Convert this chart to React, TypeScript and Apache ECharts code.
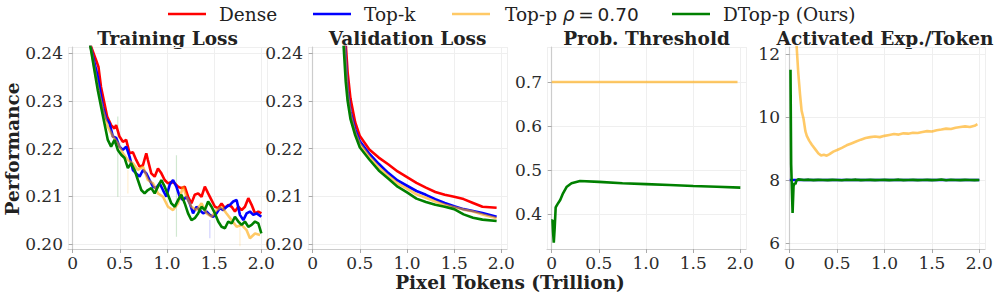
import React, { useEffect, useRef } from 'react';
import * as echarts from 'echarts';

type P = [number, number];

const seriesNames = ['Dense', 'Top-k', 'Top-p ρ = 0.70', 'DTop-p (Ours)'];
const panelTitles = ['Training Loss', 'Validation Loss', 'Prob. Threshold', 'Activated Exp./Token'];
const xLabel = 'Pixel Tokens (Trillion)';
const yLabel = 'Performance';

// Training loss (smoothed)
const trainDense: P[] = [[0.17,0.2450],[0.195,0.2413],[0.248,0.2385],[0.273,0.2371],[0.30,0.2329],[0.336,0.2295],[0.365,0.2267],[0.407,0.2249],[0.443,0.2242],[0.46,0.2249],[0.496,0.2225],[0.532,0.2214],[0.567,0.2218],[0.603,0.2190],[0.638,0.2192],[0.673,0.2176],[0.709,0.2162],[0.745,0.2165],[0.78,0.2190],[0.797,0.2176],[0.833,0.2148],[0.869,0.2141],[0.904,0.2158],[0.94,0.2148],[0.975,0.2134],[1.01,0.2127],[1.046,0.2130],[1.082,0.2127],[1.117,0.2120],[1.152,0.2117],[1.188,0.2120],[1.223,0.2099],[1.259,0.2085],[1.294,0.2103],[1.33,0.2106],[1.366,0.2099],[1.401,0.2120],[1.436,0.2106],[1.472,0.2092],[1.508,0.2078],[1.543,0.2075],[1.578,0.2085],[1.614,0.2075],[1.649,0.2082],[1.685,0.2078],[1.72,0.2068],[1.756,0.2078],[1.791,0.2071],[1.826,0.2078],[1.862,0.2096],[1.897,0.2082],[1.933,0.2064],[1.968,0.2068],[2.0,0.2064]];
const trainTopk: P[] = [[0.165,0.2450],[0.19,0.2413],[0.266,0.2350],[0.319,0.2288],[0.355,0.2263],[0.39,0.2253],[0.426,0.2225],[0.461,0.2222],[0.496,0.2204],[0.532,0.2197],[0.567,0.2204],[0.603,0.2183],[0.638,0.2155],[0.673,0.2148],[0.709,0.2141],[0.745,0.2155],[0.78,0.2148],[0.815,0.2134],[0.851,0.2120],[0.886,0.2117],[0.922,0.2127],[0.957,0.2113],[0.993,0.2099],[1.028,0.2124],[1.064,0.2134],[1.099,0.2120],[1.135,0.2099],[1.17,0.2092],[1.206,0.2099],[1.241,0.2085],[1.276,0.2064],[1.312,0.2078],[1.347,0.2071],[1.383,0.2064],[1.418,0.2068],[1.454,0.2061],[1.489,0.2057],[1.525,0.2064],[1.56,0.2075],[1.596,0.2071],[1.631,0.2078],[1.667,0.2082],[1.702,0.2089],[1.738,0.2092],[1.773,0.2061],[1.809,0.2050],[1.844,0.2064],[1.879,0.2068],[1.915,0.2061],[1.95,0.2064],[2.0,0.2057]];
const trainTopp: P[] = [[0.165,0.2450],[0.19,0.2413],[0.266,0.2329],[0.319,0.2281],[0.372,0.2246],[0.426,0.2225],[0.478,0.2211],[0.532,0.2190],[0.585,0.2176],[0.638,0.2169],[0.691,0.2155],[0.745,0.2162],[0.797,0.2134],[0.851,0.2127],[0.904,0.2106],[0.957,0.2099],[1.01,0.2078],[1.064,0.2071],[1.117,0.2085],[1.17,0.2120],[1.206,0.2099],[1.259,0.2078],[1.312,0.2071],[1.366,0.2085],[1.418,0.2064],[1.472,0.2057],[1.525,0.2071],[1.578,0.2078],[1.631,0.2064],[1.685,0.2050],[1.738,0.2036],[1.791,0.2040],[1.844,0.2029],[1.879,0.2012],[1.933,0.2022],[1.986,0.2019]];
const trainDtopp: P[] = [[0.16,0.2450],[0.188,0.2413],[0.23,0.2364],[0.266,0.2322],[0.30,0.2288],[0.336,0.2253],[0.372,0.2218],[0.407,0.2204],[0.443,0.2218],[0.478,0.2197],[0.514,0.2187],[0.55,0.2180],[0.585,0.2159],[0.62,0.2169],[0.656,0.2155],[0.691,0.2134],[0.727,0.2113],[0.762,0.2106],[0.797,0.2113],[0.833,0.2117],[0.869,0.2106],[0.904,0.2120],[0.94,0.2134],[0.975,0.2120],[1.01,0.2103],[1.046,0.2085],[1.082,0.2078],[1.117,0.2092],[1.152,0.2103],[1.188,0.2085],[1.223,0.2064],[1.259,0.2050],[1.294,0.2054],[1.33,0.2064],[1.366,0.2078],[1.401,0.2071],[1.436,0.2089],[1.472,0.2078],[1.508,0.2064],[1.543,0.2047],[1.578,0.2036],[1.614,0.2033],[1.649,0.2047],[1.685,0.2043],[1.72,0.2057],[1.756,0.2047],[1.791,0.2040],[1.826,0.2047],[1.862,0.2036],[1.897,0.2040],[1.933,0.2047],[1.968,0.2043],[2.0,0.2022]];

// faint raw spikes: [x, yFrom, yTo, colour index]
const rawSpikes: [number, number, number, number][] = [[0.478,0.2267,0.2099,3],[0.585,0.2155,0.2106,2],[1.10,0.2186,0.2015,3],[1.454,0.2050,0.2012,1],[1.773,0.2050,0.1995,2]];

// Validation loss
const valDense: P[] = [[0.345,0.2450],[0.35,0.2420],[0.37,0.2360],[0.40,0.2305],[0.45,0.2255],[0.50,0.2226],[0.60,0.2198],[0.70,0.2181],[0.80,0.2167],[0.90,0.2152],[1.00,0.2140],[1.10,0.2128],[1.20,0.2118],[1.30,0.2109],[1.40,0.2103],[1.50,0.2099],[1.60,0.2094],[1.70,0.2086],[1.80,0.2078],[1.95,0.2076]];
const valTopk: P[] = [[0.33,0.2460],[0.35,0.2390],[0.37,0.2325],[0.40,0.2278],[0.45,0.2240],[0.50,0.2215],[0.60,0.2189],[0.70,0.2168],[0.80,0.2149],[0.90,0.2133],[1.00,0.2122],[1.10,0.2111],[1.20,0.2103],[1.30,0.2094],[1.40,0.2086],[1.50,0.2079],[1.60,0.2073],[1.70,0.2069],[1.80,0.2065],[1.95,0.2057]];
const valTopp: P[] = [[0.33,0.2450],[0.35,0.2380],[0.37,0.2318],[0.40,0.2272],[0.45,0.2234],[0.50,0.2210],[0.60,0.2183],[0.70,0.2161],[0.80,0.2143],[0.90,0.2127],[1.00,0.2116],[1.10,0.2104],[1.20,0.2097],[1.30,0.2089],[1.40,0.2082],[1.50,0.2077],[1.60,0.2072],[1.70,0.2068],[1.80,0.2062],[1.95,0.2054]];
const valDtopp: P[] = [[0.32,0.2440],[0.35,0.2340],[0.37,0.2300],[0.40,0.2262],[0.45,0.2228],[0.50,0.2202],[0.60,0.2177],[0.70,0.2154],[0.80,0.2137],[0.90,0.2120],[1.00,0.2108],[1.10,0.2095],[1.20,0.2088],[1.30,0.2082],[1.40,0.2078],[1.50,0.2073],[1.60,0.2062],[1.70,0.2055],[1.80,0.2051],[1.95,0.2048]];

// Probability threshold
const thrTopp: P[] = [[0.0,0.70],[1.97,0.70]];
const thrDtopp: P[] = [[0.0,0.385],[0.008,0.386],[0.014,0.36],[0.022,0.335],[0.032,0.37],[0.042,0.415],[0.06,0.422],[0.09,0.432],[0.12,0.447],[0.16,0.462],[0.21,0.470],[0.30,0.475],[0.50,0.473],[0.75,0.470],[1.00,0.468],[1.25,0.466],[1.50,0.4635],[1.75,0.462],[2.0,0.460]];

// Activated experts per token
const actTopk: P[] = [[0.0,8.0],[2.0,8.0]];
const actTopp: P[] = [[0.055,13.0],[0.071,12.33],[0.09,11.40],[0.109,10.7],[0.125,10.2],[0.145,9.95],[0.165,9.55],[0.18,9.40],[0.205,9.25],[0.233,9.12],[0.268,8.98],[0.303,8.84],[0.33,8.78],[0.36,8.80],[0.39,8.77],[0.42,8.82],[0.46,8.90],[0.50,8.95],[0.55,9.02],[0.60,9.10],[0.65,9.16],[0.70,9.22],[0.75,9.28],[0.80,9.33],[0.85,9.36],[0.90,9.38],[0.95,9.36],[1.00,9.40],[1.05,9.43],[1.10,9.46],[1.15,9.44],[1.20,9.48],[1.25,9.47],[1.30,9.50],[1.35,9.49],[1.40,9.52],[1.45,9.55],[1.50,9.54],[1.55,9.58],[1.60,9.60],[1.65,9.63],[1.70,9.62],[1.75,9.66],[1.80,9.68],[1.85,9.70],[1.90,9.68],[1.95,9.72],[1.98,9.77]];
const actDtopp: P[] = [[0.008,11.5],[0.015,8.5],[0.03,6.95],[0.04,7.8],[0.05,7.9],[0.06,7.87],[0.07,7.98],[0.09,8.02],[0.15,8.0],[0.2,8.01],[0.25,7.995],[0.3,8.005],[0.35,8.0],[0.4,7.995],[0.45,8.005],[0.5,8.0],[0.55,7.99],[0.6,8.005],[0.65,8.0],[0.7,8.01],[0.75,7.995],[0.8,8.0],[0.85,8.005],[0.9,7.995],[0.95,8.0],[1.0,8.005],[1.05,7.995],[1.1,8.0],[1.15,8.01],[1.2,7.995],[1.25,8.0],[1.3,8.005],[1.35,7.995],[1.4,8.0],[1.45,8.005],[1.5,7.995],[1.55,8.0],[1.6,8.015],[1.65,7.99],[1.7,8.005],[1.75,8.0],[1.8,7.995],[1.85,8.005],[1.9,8.0],[1.95,7.995],[2.0,8.0]];

const colors = ['#ff0000', '#0000ff', '#ffa500', '#008000'];
const opacities = [1, 1, 0.6, 1];

const FONT = 'DejaVu Serif';
const BIG = 18.5;
const legendLeft = [168, 313, 452, 672];
const grids = [
  { left: 68, top: 47, width: 199, height: 202 },
  { left: 308, top: 47, width: 199, height: 202 },
  { left: 547, top: 47, width: 199, height: 202 },
  { left: 785, top: 47, width: 200, height: 202 },
];
const yRanges = [
  { min: 0.19895, max: 0.24126, split: 5, dec: 2 },
  { min: 0.19895, max: 0.24126, split: 5, dec: 2 },
  { min: 0.3205, max: 0.7795, split: 5, dec: 1 },
  { min: 5.81, max: 12.22, split: 3, dec: 0 },
];

export default function App() {
  const ref = useRef<HTMLDivElement>(null);
  useEffect(() => {
    if (!ref.current) return;
    const chart = echarts.init(ref.current, undefined, { renderer: 'svg' });
    const axisLine = { show: true, lineStyle: { color: '#cccccc', width: 1.2 } };
    const axisTick = { show: true, length: 4, lineStyle: { color: '#aaaaaa', width: 1 } };
    const splitLine = { show: true, lineStyle: { color: '#efefef', width: 1 } };
    const labelBase = { fontSize: 17, fontFamily: FONT, color: '#2b2b2b', showMinLabel: false, showMaxLabel: false };

    const xAxes = grids.map((_, i) => ({
      type: 'value', gridIndex: i, min: -0.05, max: 2.06, splitNumber: 5,
      axisLine, axisTick, splitLine,
      axisLabel: { ...labelBase, margin: 5, formatter: (v: number) => (v === 0 ? '0' : v.toFixed(1)) },
    }));
    const yAxes = yRanges.map((r, i) => ({
      type: 'value', gridIndex: i, min: r.min, max: r.max, splitNumber: r.split,
      axisLine, axisTick, splitLine,
      axisLabel: { ...labelBase, margin: 5, formatter: (v: number) => v.toFixed(r.dec) },
    }));

    const line = (name: string, ci: number, data: P[], gi: number, z = 2) => ({
      type: 'line', name, data, xAxisIndex: gi, yAxisIndex: gi,
      showSymbol: false, symbol: 'none', z,
      lineStyle: { color: colors[ci], width: 2.6, opacity: opacities[ci] },
      itemStyle: { color: colors[ci], opacity: opacities[ci] },
      emphasis: { disabled: true },
    });

    const panelSeries: [number, P[], number][] = [
      [0, trainDense, 0], [1, trainTopk, 0], [2, trainTopp, 0], [3, trainDtopp, 0],
      [0, valDense, 1], [1, valTopk, 1], [2, valTopp, 1], [3, valDtopp, 1],
      [2, thrTopp, 2], [3, thrDtopp, 2],
      [1, actTopk, 3], [2, actTopp, 3], [3, actDtopp, 3],
    ];
    const series: any[] = rawSpikes.map((s, k) => ({
      type: 'line', name: 'raw' + k, xAxisIndex: 0, yAxisIndex: 0, showSymbol: false, symbol: 'none', z: 1,
      data: [[s[0], s[1]], [s[0], s[2]]],
      lineStyle: { color: colors[s[3]], width: 1.2, opacity: 0.18 },
      emphasis: { disabled: true },
    }));
    panelSeries.forEach(([ci, d, gi]) => series.push(line(seriesNames[ci], ci, d, gi, 2 + ci)));

    const graphic: any[] = panelTitles.map((t, i) => ({
      type: 'text', x: grids[i].left + grids[i].width / 2, y: 38,
      style: { text: t, fontSize: BIG, fontWeight: 'bold', fontFamily: FONT, fill: '#222222', align: 'center', verticalAlign: 'middle' },
    }));
    graphic.push({
      type: 'text', x: 510, y: 282,
      style: { text: xLabel, fontSize: BIG, fontWeight: 'bold', fontFamily: FONT, fill: '#222222', align: 'center', verticalAlign: 'middle' },
    });
    graphic.push({
      type: 'text', x: 12, y: 149, rotation: Math.PI / 2,
      style: { text: yLabel, fontSize: BIG, fontWeight: 'bold', fontFamily: FONT, fill: '#222222', align: 'center', verticalAlign: 'middle' },
    });

    const legends = seriesNames.map((n, i) => ({
      data: [n], left: legendLeft[i], top: 4, padding: 0, itemWidth: 38, itemHeight: 2.6,
      icon: 'rect', selectedMode: false,
      textStyle: {
        fontSize: BIG, fontFamily: FONT, color: '#222222', padding: [0, 0, 0, i === 2 ? 10 : 8], lineHeight: 20,
        rich: {
          r: { fontFamily: 'DejaVu Sans', fontStyle: 'italic', fontSize: BIG, color: '#222222', lineHeight: 20 },
          s: { fontFamily: 'DejaVu Sans', fontSize: BIG, color: '#222222', lineHeight: 20 },
        },
      },
      formatter: (name: string) => (name === seriesNames[2] ? 'Top-p {r|ρ}{s|\u2009=\u20090.70}' : name),
    }));

    chart.setOption({
      animation: false,
      backgroundColor: '#ffffff',
      grid: grids.map((g) => ({ ...g, containLabel: false })),
      xAxis: xAxes,
      yAxis: yAxes,
      legend: legends,
      graphic,
      series,
    });
    return () => chart.dispose();
  }, []);
  return <div ref={ref} style={{ position: 'fixed', left: 0, top: 0, width: 997, height: 295 }} />;
}
